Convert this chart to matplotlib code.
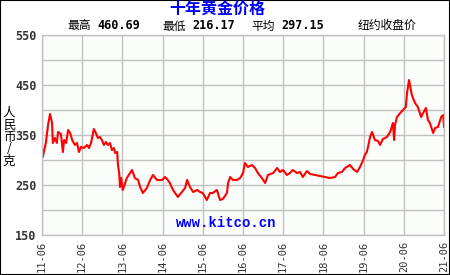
import matplotlib
matplotlib.use("Agg")
import matplotlib.pyplot as plt
from matplotlib.patches import Rectangle

plt.rcParams['font.family'] = ['Noto Sans CJK SC', 'DejaVu Sans']

############################################
# DATA (years since 2011-06, price RMB/g)
############################################
years = [0.00, 0.02, 0.10, 0.15, 0.20, 0.25, 0.27, 0.32, 0.37, 0.40,
         0.47, 0.52, 0.55, 0.60, 0.65, 0.70, 0.75, 0.82, 0.87, 0.92,
         0.97, 1.04, 1.12, 1.17, 1.22, 1.27, 1.29, 1.34, 1.39, 1.44,
         1.49, 1.54, 1.59, 1.64, 1.69, 1.74, 1.79, 1.82, 1.87, 1.89,
         1.92, 1.94, 1.97, 2.01, 2.11, 2.24, 2.31, 2.39, 2.44, 2.51,
         2.61, 2.69, 2.76, 2.86, 2.99, 3.06, 3.13, 3.18, 3.26, 3.38,
         3.48, 3.56, 3.61, 3.68, 3.76, 3.86, 3.93, 4.00, 4.10, 4.18,
         4.25, 4.35, 4.43, 4.50, 4.60, 4.63, 4.68, 4.75, 4.85, 4.93,
         5.00, 5.05, 5.12, 5.22, 5.30, 5.37, 5.47, 5.55, 5.62, 5.75,
         5.85, 5.92, 6.00, 6.09, 6.17, 6.24, 6.34, 6.42, 6.49, 6.59,
         6.67, 6.79, 6.92, 7.04, 7.16, 7.29, 7.36, 7.46, 7.54, 7.66,
         7.74, 7.84, 7.91, 7.99, 8.03, 8.08, 8.11, 8.16, 8.21, 8.28,
         8.36, 8.41, 8.48, 8.58, 8.66, 8.73, 8.76, 8.78, 8.83, 8.91,
         8.98, 9.05, 9.08, 9.13, 9.20, 9.28, 9.35, 9.43, 9.48, 9.55,
         9.60, 9.65, 9.73, 9.78, 9.85, 9.93, 9.98, 10.00]
prices = [324, 306, 336, 370, 392, 374, 334, 344, 334, 356,
          352, 316, 340, 334, 360, 354, 340, 330, 334, 316,
          326, 324, 330, 324, 334, 354, 362, 354, 344, 346,
          340, 330, 336, 330, 334, 320, 324, 314, 316, 290,
          274, 246, 264, 240, 264, 280, 264, 260, 246, 234,
          244, 260, 270, 260, 260, 266, 260, 254, 240, 226,
          236, 244, 260, 246, 236, 240, 236, 234, 220, 234,
          234, 240, 220, 222, 234, 254, 266, 260, 260, 264,
          274, 294, 286, 290, 284, 274, 264, 254, 270, 274,
          284, 276, 280, 270, 274, 280, 274, 276, 266, 278,
          272, 270, 268, 266, 264, 266, 274, 276, 284, 290,
          282, 276, 286, 300, 310, 316, 326, 346, 356, 340,
          338, 330, 342, 346, 356, 374, 340, 370, 386, 394,
          400, 406, 434, 460, 430, 414, 406, 386, 394, 404,
          380, 374, 354, 364, 366, 386, 390, 366]

x_labels = ["11-06", "12-06", "13-06", "14-06", "15-06", "16-06",
            "17-06", "18-06", "19-06", "20-06", "21-06"]
y_ticks = [150, 200, 250, 300, 350, 400, 450, 500, 550]
y_labels = ["150", "", "250", "", "350", "", "450", "", "550"]

title = "十年黄金价格"
stats = [("最高", "460.69"), ("最低", "216.17"), ("平均", "297.15")]

############################################
# PLOT
############################################
fig = plt.figure(figsize=(4.5, 2.75), dpi=100)
fig.patch.set_facecolor("white")
fig.patches.append(Rectangle((0, 0), 1, 1, transform=fig.transFigure,
                             fill=False, edgecolor="black", linewidth=1.5))

ax = fig.add_axes([42/450, 1-235/275, 402/450, 200/275])
ax.set_facecolor("#fbfdfb")
ax.plot(years, prices, color="#ff0000", linewidth=1.5)

ax.set_xlim(0, 10)
ax.set_ylim(150, 550)
ax.set_xticks(range(len(x_labels)))
ax.set_xticklabels(x_labels, rotation=90, fontsize=7.5, color="#333333",
                   family="DejaVu Sans Mono")
ax.set_yticks(y_ticks)
ax.set_yticklabels(y_labels, fontsize=8.5, fontweight="bold", color="#333333",
                   family="DejaVu Sans Mono")
ax.tick_params(length=0, pad=4)
ax.grid(True, color="#c0c0c0", linewidth=1)
for s in ax.spines.values():
    s.set_color("#c0c0c0")
    s.set_linewidth(1)

# title & header
fig.text(217/450, 1-9/275, title, ha="center", va="center", fontsize=11.5,
         fontweight="bold", color="#0000ff")
for (lab, val), xp in zip(stats, [67, 162, 251]):
    fig.text(xp/450, 1-26/275, lab, ha="left", va="center", fontsize=8.5)
    fig.text((xp+30)/450, 1-26/275, val, ha="left", va="center", fontsize=8.5,
             fontweight="bold", family="DejaVu Sans Mono")
fig.text(358/450, 1-25/275, "纽约收盘价", ha="left", va="center", fontsize=8.5)

# y axis label
fig.text(9/450, 1-137/275, "人\n民\n币\n/\n克", ha="center", va="center",
         fontsize=9, linespacing=0.9)

# watermark
ax.text(0.458, 0.025, "www.kitco.cn", transform=ax.transAxes, ha="center",
        va="bottom", fontsize=10, fontweight="bold", color="#0000ff",
        family="Liberation Mono")

fig.savefig("out.png", dpi=100)
